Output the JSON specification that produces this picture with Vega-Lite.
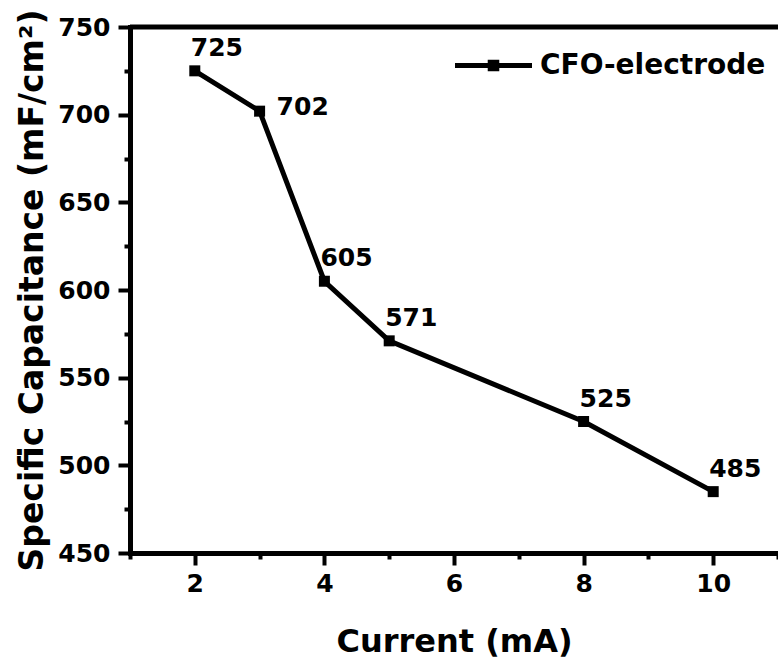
{
  "$schema": "https://vega.github.io/schema/vega-lite/v6.json",
  "autosize": "none",
  "width": 648,
  "height": 526,
  "padding": {"left": 130, "top": 27, "right": 0, "bottom": 116},
  "background": "white",
  "config": {
    "view": {"stroke": null},
    "font": "DejaVu Sans",
    "axis": {
      "domainColor": "black",
      "domainWidth": 5,
      "domainCap": "square",
      "tickColor": "black",
      "tickWidth": 4,
      "grid": false,
      "labelFont": "DejaVu Sans",
      "labelFontWeight": "bold",
      "labelFontSize": 25,
      "labelColor": "black",
      "titleFont": "DejaVu Sans",
      "titleFontWeight": "bold",
      "titleColor": "black"
    }
  },
  "data": {
    "values": [
      {"current": 2, "capacitance": 725, "series": "CFO-electrode"},
      {"current": 3, "capacitance": 702, "series": "CFO-electrode"},
      {"current": 4, "capacitance": 605, "series": "CFO-electrode"},
      {"current": 5, "capacitance": 571, "series": "CFO-electrode"},
      {"current": 8, "capacitance": 525, "series": "CFO-electrode"},
      {"current": 10, "capacitance": 485, "series": "CFO-electrode"}
    ]
  },
  "resolve": {"axis": {"x": "independent", "y": "independent"}},
  "layer": [
    {
      "data": {"values": [{}]},
      "mark": {"type": "rule", "color": "black", "strokeWidth": 5},
      "encoding": {"y": {"datum": 750, "type": "quantitative", "axis": null}}
    },
    {
      "mark": {"type": "line", "color": "black", "strokeWidth": 5},
      "encoding": {
        "x": {
          "field": "current",
          "type": "quantitative",
          "scale": {"domain": [1, 11], "nice": false, "zero": false},
          "axis": {
            "orient": "bottom",
            "title": "Current (mA)",
            "titleFontSize": 32,
            "titlePadding": 30,
            "format": "d",
            "values": [2, 4, 6, 8, 10],
            "tickWidth": 4,
            "tickColor": "black",
            "tickSize": 12,
            "labelPadding": 6,
            "labelFlush": false,
            "labelOverlap": false
          }
        },
        "y": {
          "field": "capacitance",
          "type": "quantitative",
          "scale": {"domain": [450, 750], "nice": false, "zero": false},
          "axis": {
            "orient": "left",
            "title": "Specific Capacitance (mF/cm²)",
            "titleFontSize": 33,
            "titlePadding": 8,
            "values": [450, 500, 550, 600, 650, 700, 750],
            "tickWidth": 4,
            "tickColor": "black",
            "tickSize": 12,
            "labelPadding": 8,
            "labelFlush": false,
            "labelOverlap": false
          }
        }
      }
    },
    {
      "mark": {"type": "point", "shape": "square", "filled": true, "size": 121, "opacity": 1},
      "encoding": {
        "x": {
          "field": "current",
          "type": "quantitative",
          "axis": {"orient": "bottom", "title": null, "labels": false, "domain": false, "values": [1, 3, 5, 7, 9, 11], "tickSize": 6, "tickWidth": 4, "tickColor": "black"}
        },
        "y": {
          "field": "capacitance",
          "type": "quantitative",
          "axis": {"orient": "left", "title": null, "labels": false, "domain": false, "values": [475, 525, 575, 625, 675, 725], "tickSize": 6, "tickWidth": 4, "tickColor": "black"}
        },
        "color": {
          "field": "series",
          "type": "nominal",
          "scale": {"range": ["black"]},
          "legend": {
            "title": null,
            "orient": "none",
            "legendX": 325,
            "legendY": 0,
            "padding": 0,
            "symbolType": "M-1,-0.065H1V0.065H-1Z M-0.15,-0.15H0.15V0.15H-0.15Z",
            "symbolSize": 5929,
            "symbolFillColor": "black",
            "symbolStrokeWidth": 0,
            "symbolOpacity": 1,
            "labelFont": "DejaVu Sans",
            "labelFontWeight": "bold",
            "labelFontSize": 28,
            "labelColor": "black",
            "labelOffset": 8,
            "labelLimit": 400
          }
        }
      }
    },
    {
      "transform": [{"filter": "datum.current !== 3"}],
      "mark": {"type": "text", "align": "left", "baseline": "alphabetic", "dx": -4, "dy": -15, "font": "DejaVu Sans", "fontWeight": "bold", "fontSize": 25, "color": "black"},
      "encoding": {
        "x": {"field": "current", "type": "quantitative", "axis": null},
        "y": {"field": "capacitance", "type": "quantitative", "axis": null},
        "text": {"field": "capacitance", "type": "quantitative"}
      }
    },
    {
      "transform": [{"filter": "datum.current === 3"}],
      "mark": {"type": "text", "align": "left", "baseline": "alphabetic", "dx": 17, "dy": 4, "font": "DejaVu Sans", "fontWeight": "bold", "fontSize": 25, "color": "black"},
      "encoding": {
        "x": {"field": "current", "type": "quantitative", "axis": null},
        "y": {"field": "capacitance", "type": "quantitative", "axis": null},
        "text": {"field": "capacitance", "type": "quantitative"}
      }
    }
  ]
}
